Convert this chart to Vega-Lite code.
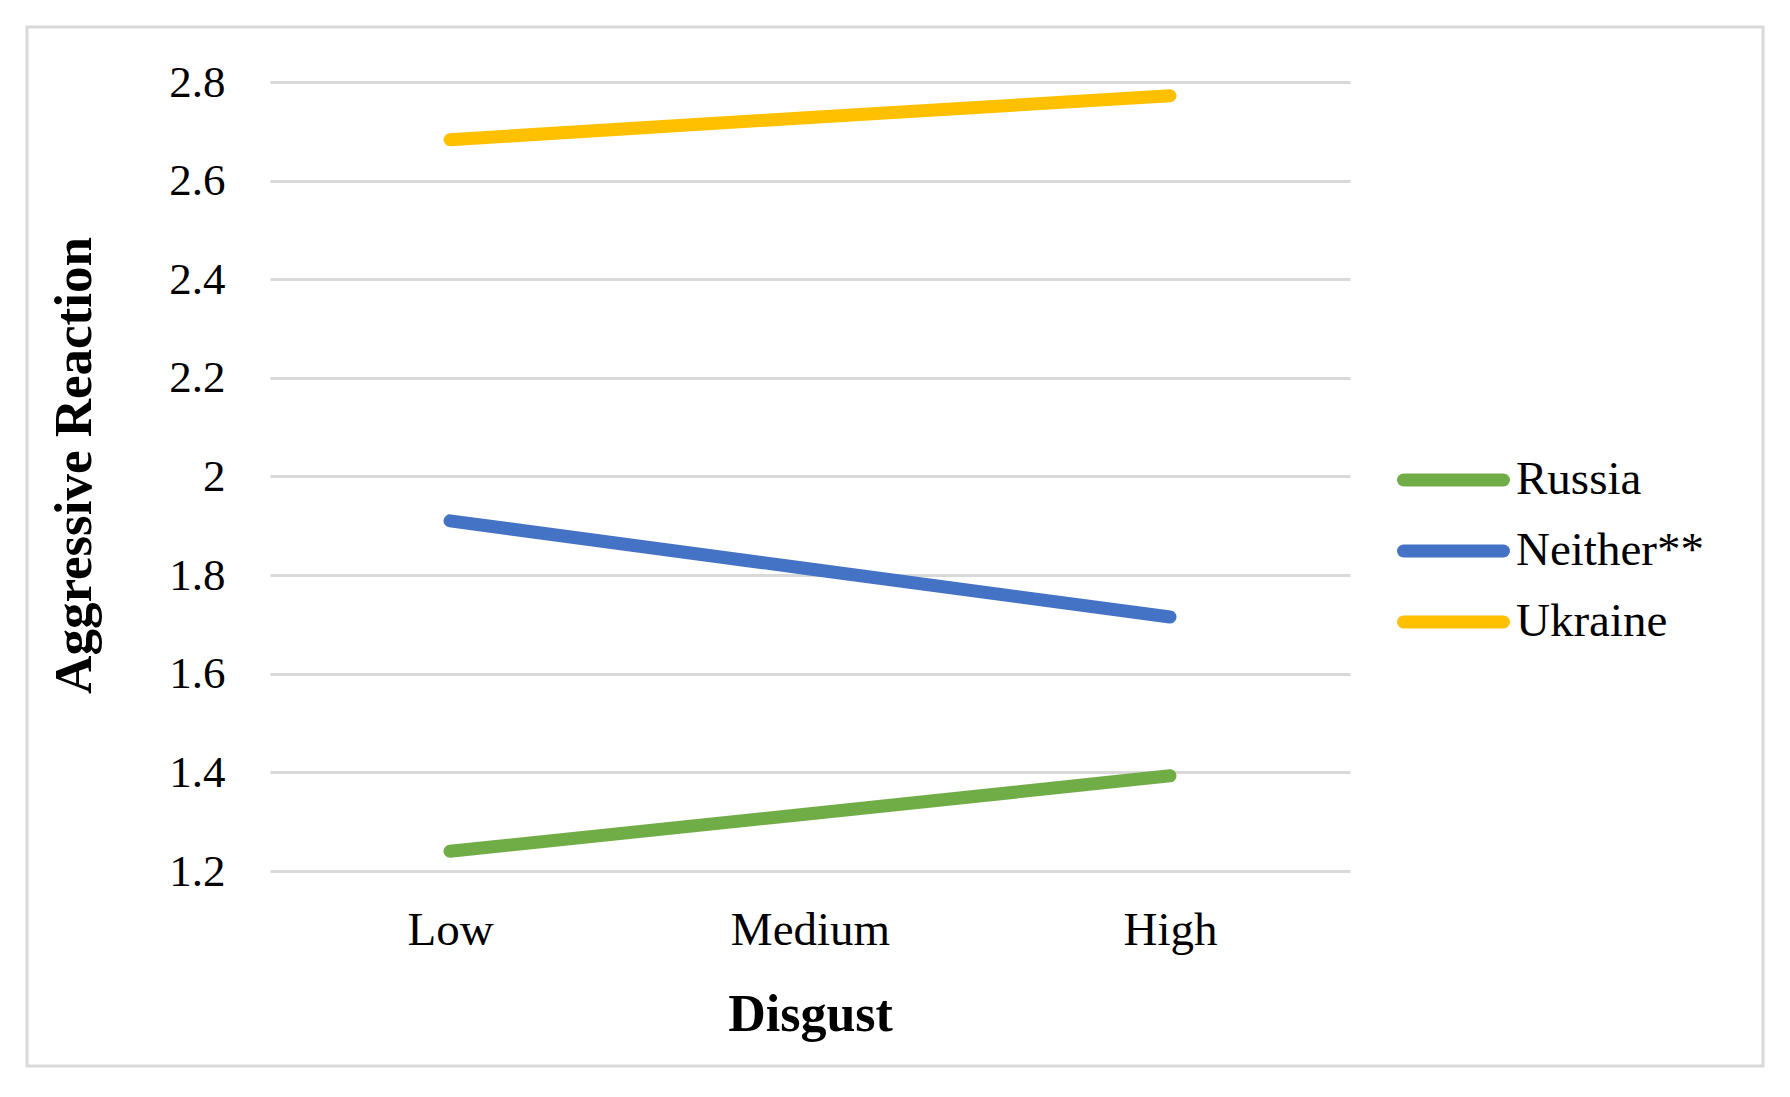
{
  "$schema": "https://vega.github.io/schema/vega-lite/v6.json",
  "width": 1736,
  "height": 1039,
  "autosize": "none",
  "padding": {"left": 27, "top": 27, "right": 27, "bottom": 31},
  "background": "white",
  "config": {
    "view": {"stroke": "#d9d9d9", "strokeWidth": 3},
    "font": "Liberation Serif"
  },
  "data": {
    "values": [
      {"Disgust": "Low", "Group": "Russia", "Value": 1.24},
      {"Disgust": "Medium", "Group": "Russia", "Value": 1.316},
      {"Disgust": "High", "Group": "Russia", "Value": 1.393},
      {"Disgust": "Low", "Group": "Neither**", "Value": 1.91},
      {"Disgust": "Medium", "Group": "Neither**", "Value": 1.8125},
      {"Disgust": "High", "Group": "Neither**", "Value": 1.715},
      {"Disgust": "Low", "Group": "Ukraine", "Value": 2.683},
      {"Disgust": "Medium", "Group": "Ukraine", "Value": 2.728},
      {"Disgust": "High", "Group": "Ukraine", "Value": 2.772}
    ]
  },
  "mark": {"type": "line", "strokeWidth": 13, "strokeCap": "round", "strokeJoin": "round", "clip": false},
  "encoding": {
    "x": {
      "field": "Disgust",
      "type": "ordinal",
      "scale": {"type": "point", "domain": ["Low", "Medium", "High"], "range": [243, 1323], "padding": 0.5},
      "axis": {
        "orient": "bottom",
        "offset": -195,
        "domain": false,
        "ticks": false,
        "grid": false,
        "labelAngle": 0,
        "labelFont": "Liberation Serif",
        "labelFontSize": 47,
        "labelColor": "#000000",
        "labelPadding": 36,
        "title": "Disgust",
        "titleFont": "Liberation Serif",
        "titleFontSize": 52,
        "titleFontWeight": "bold",
        "titleColor": "#000000",
        "titlePadding": 36
      }
    },
    "y": {
      "field": "Value",
      "type": "quantitative",
      "scale": {"domain": [1.2, 2.8], "range": [844, 55], "nice": false, "zero": false},
      "axis": {
        "orient": "left",
        "offset": -243,
        "domain": false,
        "ticks": false,
        "grid": true,
        "gridColor": "#d9d9d9",
        "gridWidth": 3,
        "values": [1.2, 1.4, 1.6, 1.8, 2.0, 2.2, 2.4, 2.6, 2.8],
        "format": ".1~f",
        "labelFont": "Liberation Serif",
        "labelFontSize": 45,
        "labelColor": "#000000",
        "labelPadding": 45,
        "title": "Aggressive Reaction",
        "titleFont": "Liberation Serif",
        "titleFontSize": 53,
        "titleFontWeight": "bold",
        "titleColor": "#000000",
        "titlePadding": 67,
        "titleY": 438
      }
    },
    "color": {
      "field": "Group",
      "type": "nominal",
      "scale": {"domain": ["Russia", "Neither**", "Ukraine"], "range": ["#70AD47", "#4472C4", "#FFC000"]},
      "legend": {
        "orient": "none",
        "legendX": 1370,
        "legendY": 429,
        "title": null,
        "padding": 0,
        "symbolType": "stroke",
        "symbolSize": 10000,
        "symbolStrokeWidth": 13,
        "clipHeight": 48,
        "rowPadding": 23,
        "labelOffset": 6,
        "labelFont": "Liberation Serif",
        "labelFontSize": 47,
        "labelColor": "#000000",
        "labelLimit": 400,
        "encode": {"symbols": {"update": {"strokeCap": {"value": "round"}}}}
      }
    }
  }
}
